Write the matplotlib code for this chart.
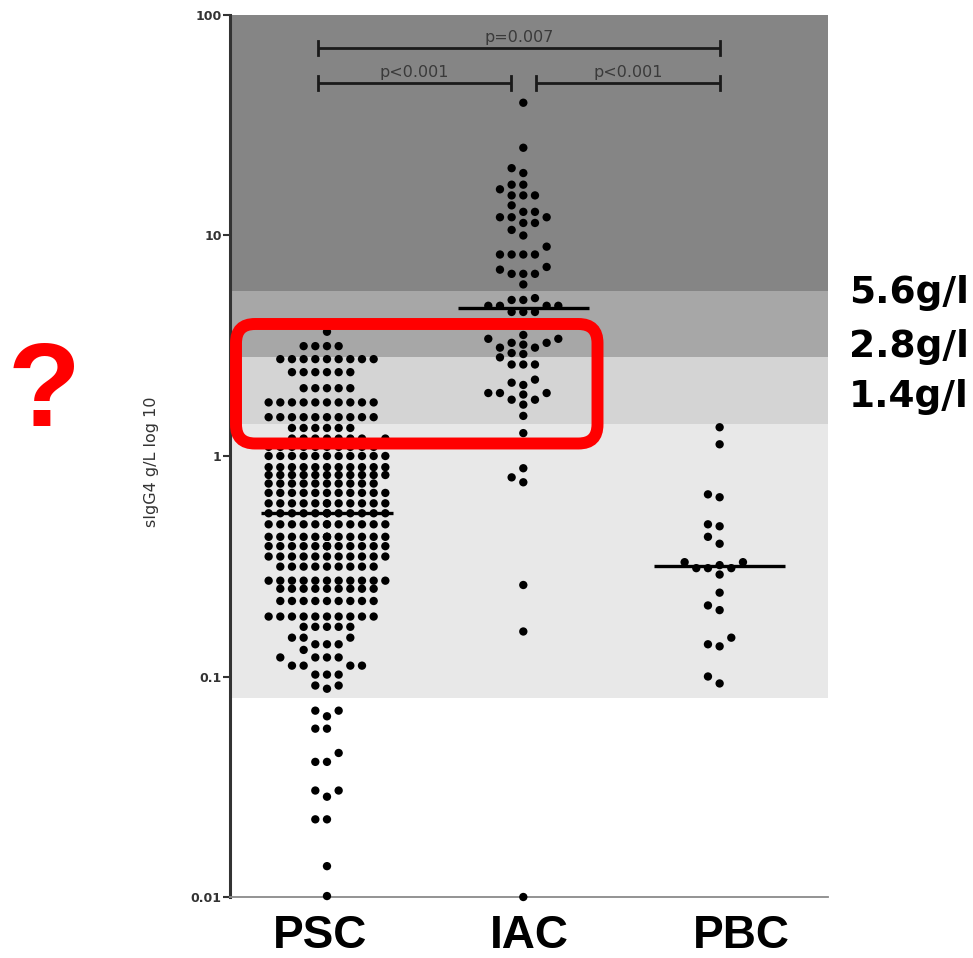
import numpy as np
import matplotlib
matplotlib.use('Agg')
import matplotlib.pyplot as plt
from matplotlib.patches import FancyBboxPatch
from matplotlib.ticker import NullLocator, FixedLocator, FixedFormatter

# ---------------- data ----------------
categories = ['PSC', 'IAC', 'PBC']

psc_levels = [0.0101, 0.0138, 0.0225, 0.0285, 0.0304, 0.041, 0.045, 0.058, 0.066, 0.070,
              0.088, 0.091, 0.102, 0.112, 0.122, 0.132, 0.140, 0.150, 0.168, 0.187,
              0.220, 0.250, 0.272, 0.315, 0.350, 0.390, 0.430, 0.490, 0.550, 0.610,
              0.680, 0.750, 0.820, 0.890, 1.000, 1.100, 1.200, 1.340, 1.500, 1.750,
              2.030, 2.400, 2.750, 3.150, 3.660]
psc_counts = [1, 1, 2, 1, 2, 2, 1, 2, 1, 2,
              1, 2, 3, 4, 4, 1, 3, 3, 5, 10,
              9, 9, 11, 9, 11, 13, 13, 12, 13, 12,
              11, 10, 11, 11, 11, 10, 8, 6, 10, 10,
              5, 6, 9, 4, 1]

iac_values = [0.01, 0.16, 0.26, 0.76, 0.80, 0.88, 1.27, 1.52, 1.71, 1.8, 1.8, 1.9,
              1.93, 1.93, 1.93, 2.1, 2.15, 2.22, 2.6, 2.6, 2.6, 2.8, 2.9, 2.93,
              3.1, 3.1, 3.2, 3.26, 3.26, 3.4, 3.4, 3.54, 4.5, 4.5, 4.5,
              4.8, 4.8, 4.8, 4.8, 5.1, 5.1, 5.2, 6.0, 6.7, 6.7, 6.7, 7.0, 7.2,
              8.2, 8.2, 8.2, 8.2, 8.9, 10.0, 10.6, 11.4, 11.4, 12.1, 12.1, 12.1,
              12.8, 12.8, 13.7, 15.2, 15.2, 15.2, 16.2, 17.0, 17.0, 19.2, 20.2, 25.0, 40.0]

pbc_values = [0.093, 0.10, 0.137, 0.14, 0.15, 0.20, 0.21, 0.24, 0.29, 0.31, 0.31, 0.31,
              0.32, 0.33, 0.33, 0.40, 0.43, 0.48, 0.49, 0.65, 0.67, 1.13, 1.35]

medians = [0.55, 4.7, 0.316]

band_edges = [0.08, 1.4, 2.8, 5.6, 100]
band_colors = ['#e8e8e8', '#d4d4d4', '#a7a7a7', '#858585']
threshold_labels = ['5.6g/l', '2.8g/l', '1.4g/l']

y_ticks = [0.01, 0.1, 1, 10, 100]
y_ticklabels = ['0.01', '0.1', '1', '10', '100']

comparisons = [(0, 2, 'p=0.007'), (0, 1, 'p<0.001'), (1, 2, 'p<0.001')]

# ---------------- figure ----------------
W, H = 973, 958
fig = plt.figure(figsize=(W / 100, H / 100), dpi=100)
fig.patch.set_facecolor('white')
ax = fig.add_axes([230 / W, 1 - 897 / H, 598 / W, 882 / H])
ax.set_yscale('log')
ax.set_ylim(0.01, 100)
ax.set_xlim(-0.494, 2.552)
ax.set_facecolor('white')

for lo, hi, c in zip(band_edges[:-1], band_edges[1:], band_colors):
    ax.axhspan(lo, hi, color=c, lw=0, zorder=0)

for s in ['top', 'right']:
    ax.spines[s].set_visible(False)
ax.spines['left'].set_color('#333333')
ax.spines['left'].set_linewidth(2.2)
ax.spines['bottom'].set_color('#8a8a8a')
ax.spines['bottom'].set_linewidth(1.3)

ax.set_xticks([])
ax.yaxis.set_major_locator(FixedLocator(y_ticks))
ax.yaxis.set_major_formatter(FixedFormatter(y_ticklabels))
ax.yaxis.set_minor_locator(NullLocator())
ax.tick_params(axis='y', length=5, width=1.5, color='#333333', pad=1,
               labelsize=9, labelcolor='#333333')
for t in ax.get_yticklabels():
    t.set_fontweight('bold')

ax.text(-0.132, 0.493, 'sIgG4 g/L log 10', transform=ax.transAxes, rotation=90,
        ha='center', va='center', fontsize=11.5, color='#333333')


# ---------------- beeswarm ----------------
def swarm(values, center, slot_px=11.67, min_dy=9.0, max_k=5):
    vals = np.sort(np.asarray(values, float))
    pts = np.column_stack([np.full(len(vals), float(center)), vals])
    ypx = ax.transData.transform(pts)[:, 1]
    order = [0]
    for k in range(1, max_k + 1):
        order += [-k, k]
    placed = {k: [] for k in order}
    ks = []
    for y in ypx:
        chosen = None
        for k in order:
            if all(abs(y - yy) >= min_dy for yy in placed[k]):
                chosen = k
                break
        if chosen is None:
            chosen = max(order, key=lambda k: min(abs(y - yy) for yy in placed[k]))
        placed[chosen].append(y)
        ks.append(chosen)
    p0 = ax.transData.transform([(0, 1), (1, 1)])
    px_per_unit = p0[1, 0] - p0[0, 0]
    xs = center + np.array(ks) * slot_px / px_per_unit
    return xs, vals


psc_values = np.repeat(psc_levels, psc_counts)
groups = [psc_values, iac_values, pbc_values]
for i, vals in enumerate(groups):
    xs, ys = swarm(vals, i)
    ax.scatter(xs, ys, s=36, color='black', edgecolors='none', zorder=3, clip_on=False)
    ax.plot([i - 0.334, i + 0.334], [medians[i], medians[i]], color='black', lw=2.4,
            zorder=4, solid_capstyle='butt')

# ---------------- significance brackets ----------------
bracket_x = {(0, 2): (-0.046, 2.0), (0, 1): (-0.046, 0.937), (1, 2): (1.064, 2.0)}
bracket_y = {(0, 2): 70.8, (0, 1): 49.2, (1, 2): 49.2}
cap = 1.08
for a, b, label in comparisons:
    x0, x1 = bracket_x[(a, b)]
    y = bracket_y[(a, b)]
    ax.plot([x0, x1], [y, y], color='#1a1a1a', lw=2.0, zorder=4, solid_capstyle='butt')
    for xx in (x0, x1):
        ax.plot([xx, xx], [y / cap, y * cap], color='#1a1a1a', lw=2.0, zorder=4)
    ax.text((x0 + x1) / 2, y * 1.065, label, ha='center', va='baseline',
            fontsize=11.5, color='#3a3a3a', zorder=5)

# ---------------- annotations ----------------
for lab, xp in zip(categories, [320, 529, 741]):
    fig.text(xp / W, 1 - 948 / H, lab, ha='center', va='baseline',
             fontsize=33, fontweight='bold', family='Liberation Sans', color='black')

for lab, yb in zip(threshold_labels, [303, 357, 407]):
    fig.text(849 / W, 1 - yb / H, lab, ha='left', va='baseline',
             fontsize=27, fontweight='bold', family='DejaVu Sans', color='black')

fig.text(44.5 / W, 1 - 426 / H, '?', ha='center', va='baseline',
         fontsize=86, fontweight='bold', family='Liberation Sans', color='#ff0000')

box = FancyBboxPatch((236 / 100, (H - 443.5) / 100), (597.5 - 236) / 100, (443.5 - 324) / 100,
                     boxstyle='round,pad=0,rounding_size=0.19',
                     transform=fig.dpi_scale_trans, fill=False, ec='#ff0000', lw=8.6,
                     zorder=10)
fig.add_artist(box)

fig.savefig('out.png', dpi=100, facecolor='white')
